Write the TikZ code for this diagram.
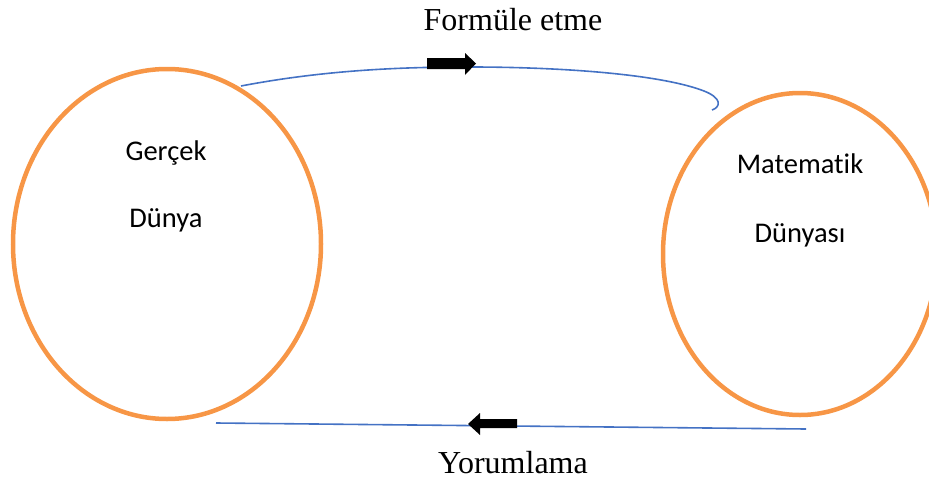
\documentclass[tikz,border=0pt]{standalone}
\usepackage{fontspec}
\setmainfont{Liberation Serif}
\newfontfamily\calib[Ligatures=NoCommon]{Carlito}
\usetikzlibrary{shapes.geometric}
\definecolor{worange}{RGB}{247,150,70}
\definecolor{wblue}{RGB}{68,114,196}
\tikzset{
  world/.style={ellipse, draw=worange, line width=4.5pt, inner sep=0pt},
  conn/.style={draw=wblue, line width=1.6pt},
  blockarrow/.style={fill=black, draw=none},
  serlabel/.style={font=\fontsize{32}{36}\selectfont, anchor=base, inner sep=0pt},
  sanslabel/.style={font=\calib\fontsize{28.5}{32}\selectfont, anchor=base, inner sep=0pt}
}
\begin{document}
\begin{tikzpicture}[x=1pt,y=-1pt]
\useasboundingbox (0,0) rectangle (929,479);
\node[world, minimum width=308pt, minimum height=350pt] (real) at (167,244) {};
\node[world, minimum width=274pt, minimum height=322pt] (math) at (800,254) {};
\node[sanslabel] (g1) at (166,160) {Gerçek};
\node[sanslabel] (g2) at (166,227) {Dünya};
\node[sanslabel] (m1) at (800,173) {Matematik};
\node[sanslabel] (m2) at (800,242) {Dünyası};
\node[serlabel] (top) at (513,30) {Formüle etme};
\node[serlabel] (bot) at (513,473) {Yorumlama};
\coordinate (ts) at (241,86);
\coordinate (te) at (712,110);
\coordinate (bs) at (806,429);
\coordinate (be) at (216,423);
\draw[conn] (ts) .. controls (330,69) and (410,67) .. (470,67)
  .. controls (560,67) and (660,74) .. (704,91)
  .. controls (722,98) and (721,107) .. (te);
\draw[conn] (bs) -- (be);
\fill[blockarrow] (427,58) -- (465,58) -- (465,53) -- (476,63.5) -- (465,75) -- (465,69) -- (427,69) -- cycle;
\fill[blockarrow] (517,419) -- (480,419) -- (480,413) -- (468,424) -- (480,435) -- (480,428) -- (517,428) -- cycle;
\end{tikzpicture}
\end{document}
